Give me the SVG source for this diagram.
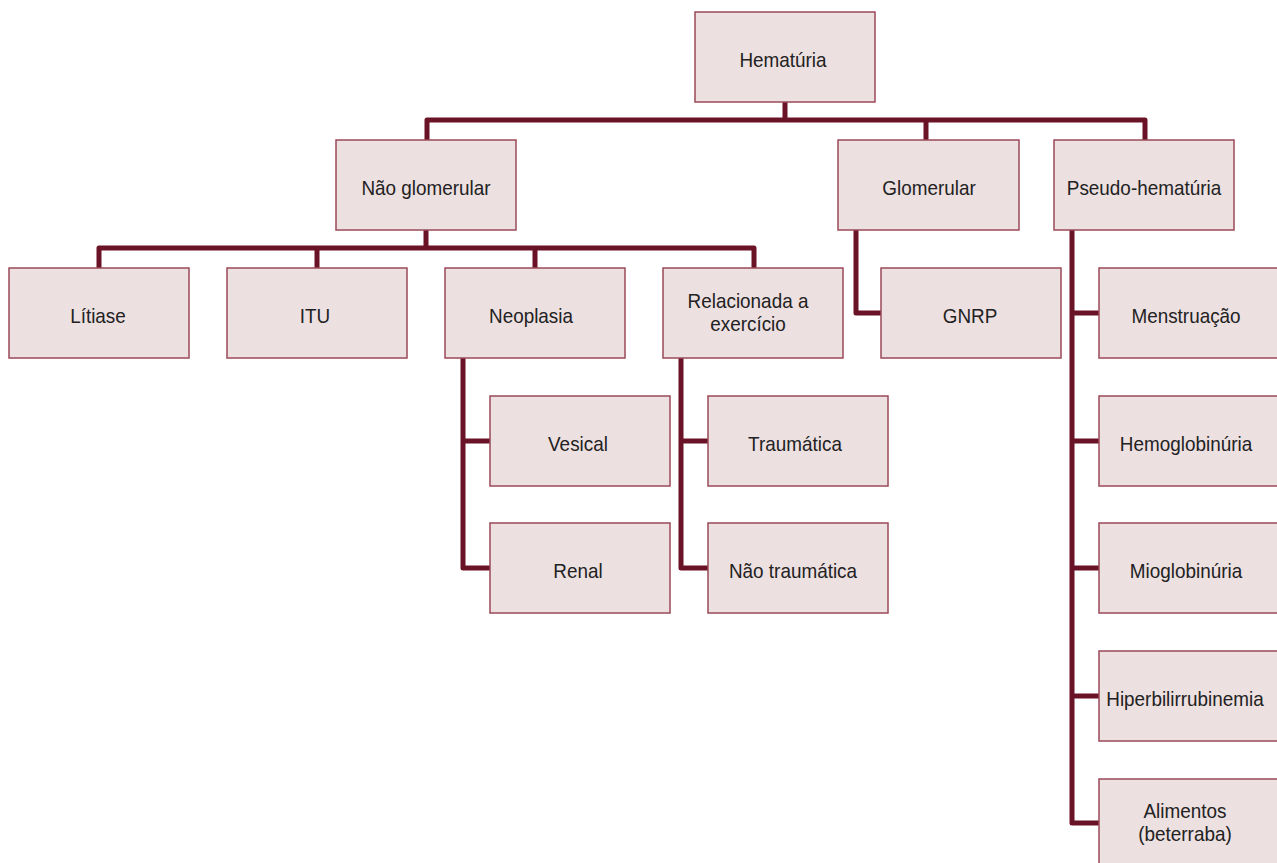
<svg xmlns="http://www.w3.org/2000/svg" width="1277" height="863" viewBox="0 0 1277 863">
<style>
.box{fill:#ede0e1;stroke:#9a4a58;stroke-width:1.5}
.lbl{font-family:"Liberation Sans",Arial,sans-serif;font-size:21px;fill:#222222;text-anchor:middle}
.con{fill:none;stroke:#6b1326;stroke-width:5;stroke-linejoin:round;stroke-linecap:butt}
</style>
<rect width="1277" height="863" fill="#ffffff"/>
<g id="connectors">
<path class="con" d="M785,102 V120 M427,140 V120 H1145 V140 M926,120 V140"/>
<path class="con" d="M426,230 V248 M99,268 V248 H754 V268 M317,248 V268 M535,248 V268"/>
<path class="con" d="M463,358 V568 H490 M463,441 H490"/>
<path class="con" d="M681,358 V568 H708 M681,441 H708"/>
<path class="con" d="M856,230 V313 H881"/>
<path class="con" d="M1072,230 V823 H1099 M1072,313 H1099 M1072,441 H1099 M1072,568 H1099 M1072,696 H1099"/>
</g>
<g id="hematuria"><rect class="box" x="695" y="12" width="180" height="90"/><text class="lbl" transform="matrix(0.9 0 0 1 783 67)">Hematúria</text></g>
<g id="nao-glomerular"><rect class="box" x="336" y="140" width="180" height="90"/><text class="lbl" transform="matrix(0.9 0 0 1 426 195)">Não glomerular</text></g>
<g id="glomerular"><rect class="box" x="838" y="140" width="181" height="90"/><text class="lbl" transform="matrix(0.9 0 0 1 929 195)">Glomerular</text></g>
<g id="pseudo-hematuria"><rect class="box" x="1054" y="140" width="180" height="90"/><text class="lbl" transform="matrix(0.9 0 0 1 1144 195)">Pseudo-hematúria</text></g>
<g id="litiase"><rect class="box" x="9" y="268" width="180" height="90"/><text class="lbl" transform="matrix(0.9 0 0 1 98 323)">Lítiase</text></g>
<g id="itu"><rect class="box" x="227" y="268" width="180" height="90"/><text class="lbl" transform="matrix(0.9 0 0 1 315 323)">ITU</text></g>
<g id="neoplasia"><rect class="box" x="445" y="268" width="180" height="90"/><text class="lbl" transform="matrix(0.9 0 0 1 531 323)">Neoplasia</text></g>
<g id="relacionada"><rect class="box" x="663" y="268" width="180" height="90"/><text class="lbl" transform="matrix(0.9 0 0 1 748 308)">Relacionada a</text><text class="lbl" transform="matrix(0.9 0 0 1 748 331)">exercício</text></g>
<g id="gnrp"><rect class="box" x="881" y="268" width="180" height="90"/><text class="lbl" transform="matrix(0.9 0 0 1 970 323)">GNRP</text></g>
<g id="vesical"><rect class="box" x="490" y="396" width="180" height="90"/><text class="lbl" transform="matrix(0.9 0 0 1 578 451)">Vesical</text></g>
<g id="renal"><rect class="box" x="490" y="523" width="180" height="90"/><text class="lbl" transform="matrix(0.9 0 0 1 578 578)">Renal</text></g>
<g id="traumatica"><rect class="box" x="708" y="396" width="180" height="90"/><text class="lbl" transform="matrix(0.9 0 0 1 795 451)">Traumática</text></g>
<g id="nao-traumatica"><rect class="box" x="708" y="523" width="180" height="90"/><text class="lbl" transform="matrix(0.9 0 0 1 793 578)">Não traumática</text></g>
<g id="menstruacao"><rect class="box" x="1099" y="268" width="180" height="90"/><text class="lbl" transform="matrix(0.9 0 0 1 1186 323)">Menstruação</text></g>
<g id="hemoglobinuria"><rect class="box" x="1099" y="396" width="180" height="90"/><text class="lbl" transform="matrix(0.9 0 0 1 1186 451)">Hemoglobinúria</text></g>
<g id="mioglobinuria"><rect class="box" x="1099" y="523" width="180" height="90"/><text class="lbl" transform="matrix(0.9 0 0 1 1186 578)">Mioglobinúria</text></g>
<g id="hiperbilirrubinemia"><rect class="box" x="1099" y="651" width="180" height="90"/><text class="lbl" transform="matrix(0.9 0 0 1 1185 706)">Hiperbilirrubinemia</text></g>
<g id="alimentos"><rect class="box" x="1099" y="779" width="180" height="90"/><text class="lbl" transform="matrix(0.9 0 0 1 1185 818)">Alimentos</text><text class="lbl" transform="matrix(0.9 0 0 1 1185 841)">(beterraba)</text></g>
</svg>
